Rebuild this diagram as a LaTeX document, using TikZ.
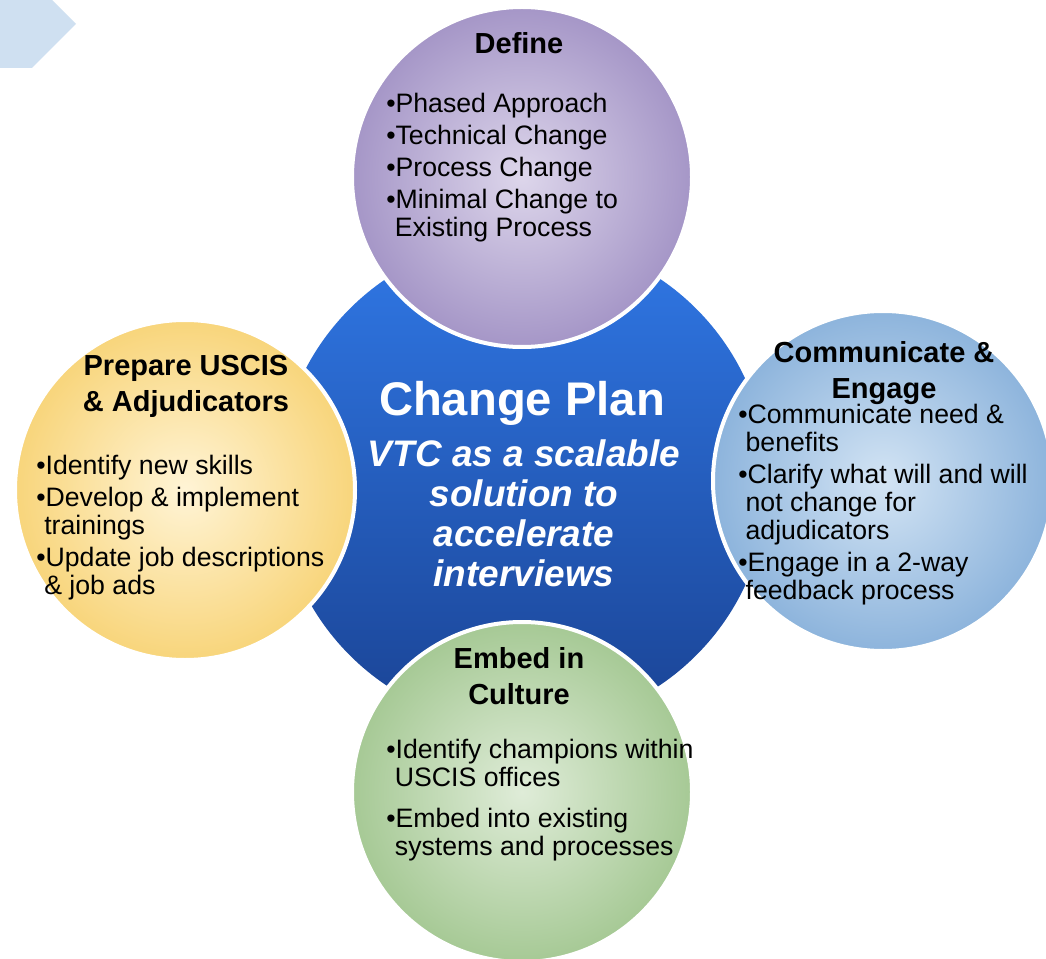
\documentclass[tikz,border=0pt]{standalone}
\usepackage{fontspec}
\setmainfont{Liberation Sans}
\definecolor{chevc}{HTML}{CFE0F1}
\definecolor{coretop}{HTML}{3078E6}
\definecolor{corebot}{HTML}{1A4394}
\definecolor{defin}{HTML}{DDD6EB}
\definecolor{defout}{HTML}{A596C7}
\definecolor{prepin}{HTML}{FFF4D6}
\definecolor{prepout}{HTML}{F8D57B}
\definecolor{comin}{HTML}{D3E4F4}
\definecolor{comout}{HTML}{8DB4DC}
\definecolor{embin}{HTML}{DFECD8}
\definecolor{embout}{HTML}{A6C995}
\begin{document}
\begin{tikzpicture}[x=0.75pt,y=-0.75pt,
  ring/.style={circle, inner sep=0pt, minimum size=255pt, draw=white, line width=3pt},
  head/.style={font=\fontsize{21.75}{27}\selectfont\bfseries, align=center, anchor=north, inner sep=0pt},
  items/.style={font=\fontsize{20}{21}\selectfont, align=left, anchor=north west, inner sep=0pt}]
\clip (0,0) rectangle (1046,959);
\fill[white] (0,0) rectangle (1046,959);
% chevron
\fill[chevc] (0,0) -- (52,0) -- (76,24) -- (32,68) -- (0,68) -- cycle;
% core
\node[circle, inner sep=0pt, minimum size=367.5pt, top color=coretop, bottom color=corebot] (core) at (523,482) {};
% satellites
\node[ring, inner color=defin, outer color=defout] (define) at (522,177) {};
\node[ring, inner color=prepin, outer color=prepout] (prepare) at (185,490) {};
\node[ring, inner color=comin, outer color=comout] (comm) at (883,481) {};
\node[ring, inner color=embin, outer color=embout] (embed) at (522,792) {};
% core text
\node[font=\fontsize{35.4}{40}\selectfont\bfseries, text=white, anchor=north, inner sep=0pt] (ctitle) at (522,381) {Change Plan};
\node[font=\fontsize{27.7}{30}\selectfont\bfseries\itshape, text=white, align=center, anchor=north, inner sep=0pt] (csub) at (524,439) {VTC as a scalable\\solution to\\accelerate\\interviews};
% Define
\node[head] (dhead) at (519,32) {Define};
\node[items] (ditems) at (386,93) {•Phased Approach\\[3pt]•Technical Change\\[3pt]•Process Change\\[3pt]•Minimal Change to\\\hspace*{6.5pt}Existing Process};
% Prepare
\node[head] (phead) at (186,355) {Prepare USCIS\\\& Adjudicators};
\node[items] (pitems) at (36,455) {•Identify new skills\\[3pt]•Develop \& implement\\\hspace*{6pt}trainings\\[3pt]•Update job descriptions\\\hspace*{6pt}\& job ads};
% Communicate
\node[head] (chead) at (884,341) {Communicate \&\\Engage};
\node[items] (citems) at (738,404) {•Communicate need \&\\\hspace*{5.5pt}benefits\\[3pt]•Clarify what will and will\\\hspace*{5.5pt}not change for\\\hspace*{5.5pt}adjudicators\\[3pt]•Engage in a 2-way\\\hspace*{5.5pt}feedback process};
% Embed
\node[head] (ehead) at (519,647) {Embed in\\Culture};
\node[items] (eitems) at (386,739) {•Identify champions within\\\hspace*{6.5pt}USCIS offices\\[9.75pt]•Embed into existing\\\hspace*{6.5pt}systems and processes};
\end{tikzpicture}
\end{document}
